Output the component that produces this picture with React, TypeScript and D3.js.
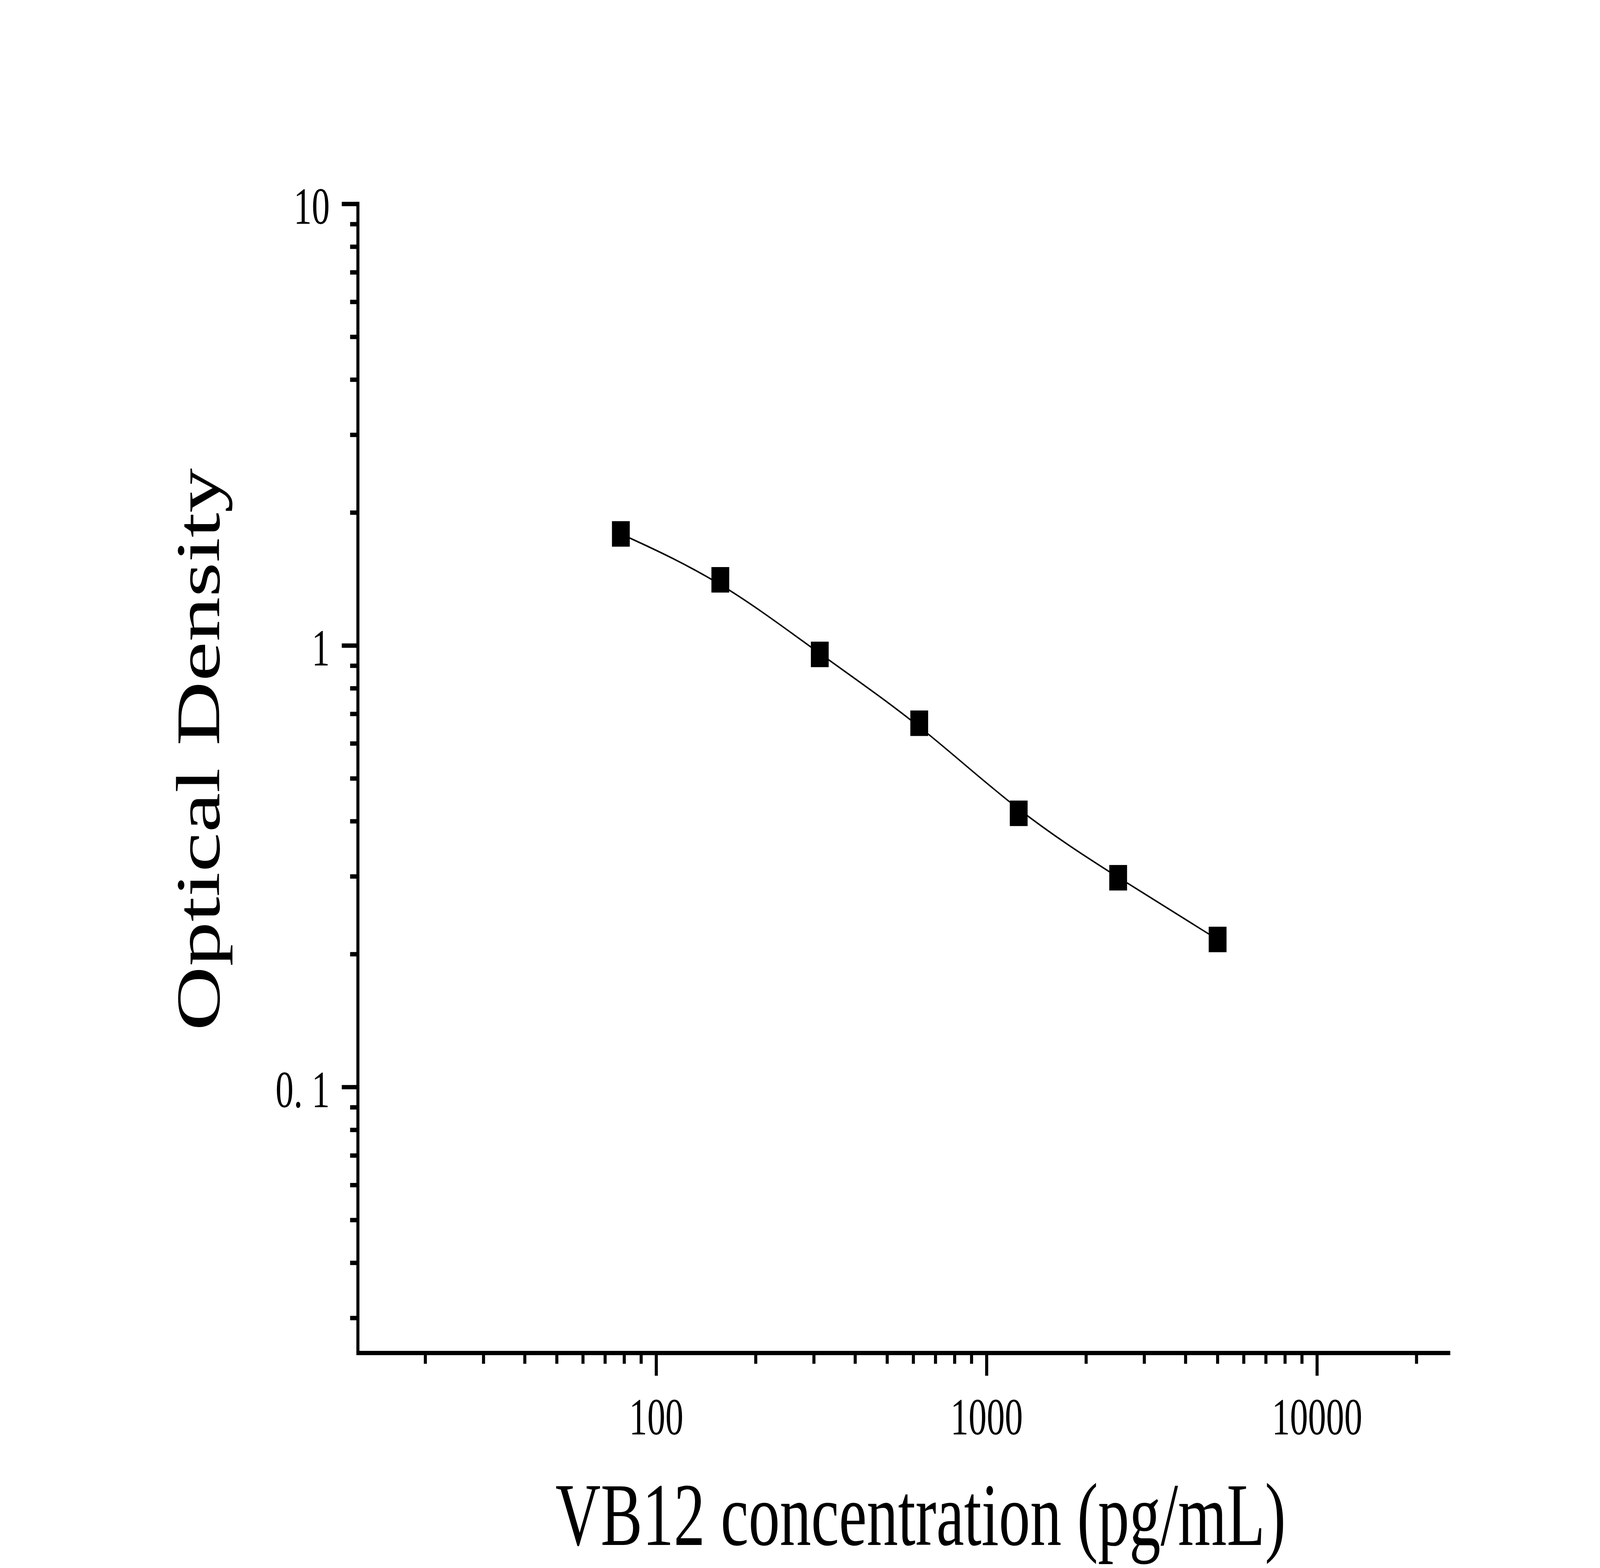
import React, { useEffect } from 'react';
import * as d3 from 'd3';

// standard curve
const concentrations = [78.125, 156.25, 312.5, 625, 1250, 2500, 5000];
const opticalDensity = [1.79, 1.409, 0.955, 0.667, 0.417, 0.298, 0.216];

const xMajorTicks = [100, 1000, 10000];
const xMajorLabels = ['100', '1000', '10000'];
const yMajorTicks = [0.1, 1, 10];
const yMajorLabels = ['0. 1', '1', '10'];

const xTitle = 'VB12 concentration (pg/mL)';
const yTitle = 'Optical Density';

const W = 5749;
const H = 4015;
const FONT = '"Liberation Serif", "Times New Roman", serif';

export default function App() {
  useEffect(() => {
    document.body.style.margin = '0';
    document.body.style.overflow = 'hidden';
    document.documentElement.style.overflow = 'hidden';
  }, []);

  const xScale = d3.scaleLog().domain([12.5, 25300]).range([1286, 5211]);
  const yScale = d3.scaleLog().domain([0.025, 10]).range([3396, 512]);

  const axisX = 1286;
  const axisY = 3396;
  const axisW = 11;

  const isMajor = (v: number) => Math.abs(Math.log10(v) - Math.round(Math.log10(v))) < 1e-9;

  const xTicks = xScale.ticks();
  const yTicks = yScale.ticks();

  const points = concentrations.map((c, i) => ({ x: c, y: opticalDensity[i] }));

  // smooth fitted-looking curve through the standards
  const line = d3.line<{ x: number; y: number }>()
    .x(d => xScale(d.x))
    .y(d => yScale(d.y))
    .curve(d3.curveBasis);

  const marker = 64;

  return (
    <svg
      viewBox={`0 0 ${W} ${H}`}
      preserveAspectRatio="none"
      style={{ display: 'block', width: '100vw', height: '4096px', background: '#fff' }}
      fontFamily={FONT}
    >
      <rect x={0} y={0} width={W} height={H} fill="#fff" />

      {/* y ticks */}
      {yTicks.map(t => (
        <line
          key={`yt${t}`}
          x1={axisX}
          x2={axisX - (isMajor(t) ? 58 : 28)}
          y1={yScale(t)}
          y2={yScale(t)}
          stroke="#000"
          strokeWidth={axisW}
        />
      ))}
      {yMajorTicks.map((t, i) => (
        <text key={`yl${t}`} x={1185} y={yScale(t) + 50} fontSize={130} textAnchor="end" fill="#000">
          {yMajorLabels[i]}
        </text>
      ))}

      {/* x ticks */}
      {xTicks.map(t => (
        <line
          key={`xt${t}`}
          x1={xScale(t)}
          x2={xScale(t)}
          y1={axisY}
          y2={axisY + (isMajor(t) ? 57 : 27)}
          stroke="#000"
          strokeWidth={axisW}
        />
      ))}
      {xMajorTicks.map((t, i) => (
        <text key={`xl${t}`} x={xScale(t)} y={3600} fontSize={130} textAnchor="middle" fill="#000">
          {xMajorLabels[i]}
        </text>
      ))}

      {/* axis lines */}
      <path
        d={`M${axisX},${yScale.range()[1] - axisW / 2}V${axisY}H${xScale.range()[1]}`}
        fill="none"
        stroke="#000"
        strokeWidth={axisW}
        strokeLinejoin="miter"
      />

      {/* fitted curve */}
      <path d={line(points) ?? ''} fill="none" stroke="#000" strokeWidth={4} />

      {/* data points */}
      {points.map(p => (
        <rect
          key={p.x}
          x={xScale(p.x) - marker / 2}
          y={yScale(p.y) - marker / 2}
          width={marker}
          height={marker}
          fill="#000"
        />
      ))}

      {/* titles */}
      <text x={3308} y={3878} fontSize={225} textAnchor="middle" fill="#000">
        {xTitle}
      </text>
      <text
        transform={`translate(787,1881) rotate(-90)`}
        fontSize={224}
        textAnchor="middle"
        fill="#000"
      >
        {yTitle}
      </text>
    </svg>
  );
}
